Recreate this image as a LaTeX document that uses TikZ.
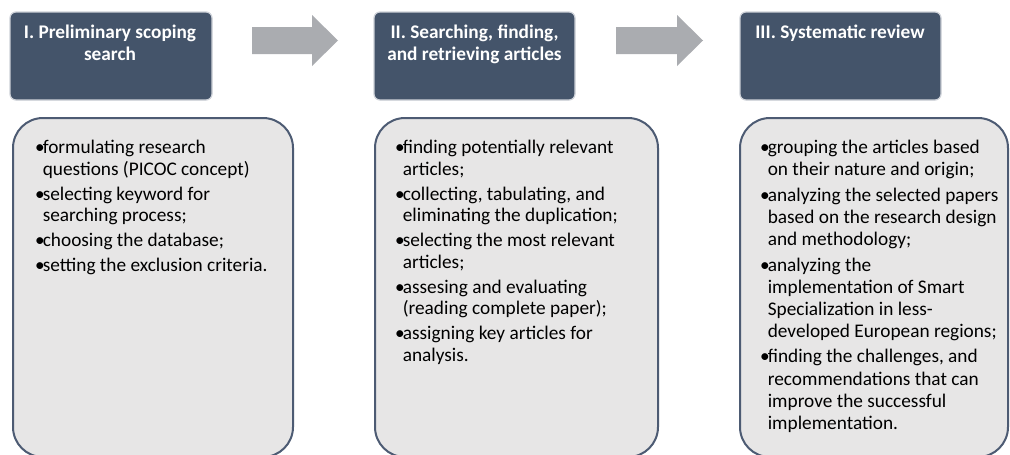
\documentclass[tikz,border=0pt]{standalone}
\usepackage{fontspec}
\setmainfont{Carlito}
\definecolor{headfill}{HTML}{44546A}
\definecolor{headedge}{HTML}{CDD1D8}
\definecolor{bodyfill}{HTML}{E7E6E6}
\definecolor{bodyedge}{HTML}{4D5B73}
\definecolor{arrowfill}{HTML}{AAACB0}
\newcommand{\bul}{\makebox[7.6pt][l]{•}}
\newcommand{\ind}{\hspace*{7.6pt}}
\tikzset{
  headbox/.style={draw=headedge, line width=1.2pt, fill=headfill, rounded corners=6pt, inner sep=0pt},
  bodybox/.style={draw=bodyedge, line width=2pt, fill=bodyfill, rounded corners=30pt, inner sep=0pt},
  headtext/.style={inner sep=0pt, anchor=base, text=white, font=\fontsize{19.3}{22}\selectfont\bfseries},
  bodytext/.style={inner sep=0pt, anchor=base west, text=black, font=\fontsize{19.3}{21.5}\selectfont},
  bodytextwide/.style={inner sep=0pt, anchor=base west, text=black, font=\fontsize{19.3}{22.1}\selectfont},
  blockarrow/.style={fill=arrowfill, draw=none}
}
\begin{document}
\begin{tikzpicture}[x=1pt,y=-1pt]
\useasboundingbox (0,0) rectangle (1010,455);
\fill[white] (0,0) rectangle (1010,455);
% header boxes
\node[headbox, minimum width=202pt, minimum height=88pt] (h1) at (111,56) {};
\node[headbox, minimum width=201pt, minimum height=88pt] (h2) at (474.5,56) {};
\node[headbox, minimum width=201pt, minimum height=88pt] (h3) at (840.5,56) {};
\node[headtext] (t1) at (110,38.3) {\begin{tabular}[t]{@{}c@{}}I. Preliminary scoping\\search\end{tabular}};
\node[headtext] (t2) at (474.5,38.3) {\begin{tabular}[t]{@{}c@{}}II. Searching, finding,\\and retrieving articles\end{tabular}};
\node[headtext] (t3) at (840,38.3) {\begin{tabular}[t]{@{}c@{}}III. Systematic review\end{tabular}};
% block arrows
\fill[blockarrow] (252,27) -- (312,27) -- (312,15) -- (338,40.5) -- (312,66) -- (312,54) -- (252,54) -- cycle;
\fill[blockarrow] (616,27) -- (677,27) -- (677,15) -- (703,40.5) -- (677,66) -- (677,54) -- (616,54) -- cycle;
% body boxes
\node[bodybox, minimum width=280pt, minimum height=339pt] (b1) at (153,287.5) {};
\node[bodybox, minimum width=283pt, minimum height=339pt] (b2) at (516.5,287.5) {};
\node[bodybox, minimum width=268pt, minimum height=339pt] (b3) at (874,287.5) {};
\node[bodytext] (l1) at (35,153.5) {\begin{tabular}[t]{@{}l@{}}
\bul formulating research\\
\ind questions (PICOC concept)\\[3.5pt]
\bul selecting keyword for\\
\ind searching process;\\[3.5pt]
\bul choosing the database;\\[3.5pt]
\bul setting the exclusion criteria.
\end{tabular}};
\node[bodytext] (l2) at (395,153.5) {\begin{tabular}[t]{@{}l@{}}
\bul finding potentially relevant\\
\ind articles;\\[3.5pt]
\bul collecting, tabulating, and\\
\ind eliminating the duplication;\\[3.5pt]
\bul selecting the most relevant\\
\ind articles;\\[3.5pt]
\bul assesing and evaluating\\
\ind (reading complete paper);\\[3.5pt]
\bul assigning key articles for\\
\ind analysis.
\end{tabular}};
\node[bodytextwide] (l3) at (760,153.5) {\begin{tabular}[t]{@{}l@{}}
\bul grouping the articles based\\
\ind on their nature and origin;\\[3.5pt]
\bul analyzing the selected papers\\
\ind based on the research design\\
\ind and methodology;\\[3.5pt]
\bul analyzing the\\
\ind implementation of Smart\\
\ind Specialization in less-\\
\ind developed European regions;\\[3.5pt]
\bul finding the challenges, and\\
\ind recommendations that can\\
\ind improve the successful\\
\ind implementation.
\end{tabular}};
\end{tikzpicture}
\end{document}
